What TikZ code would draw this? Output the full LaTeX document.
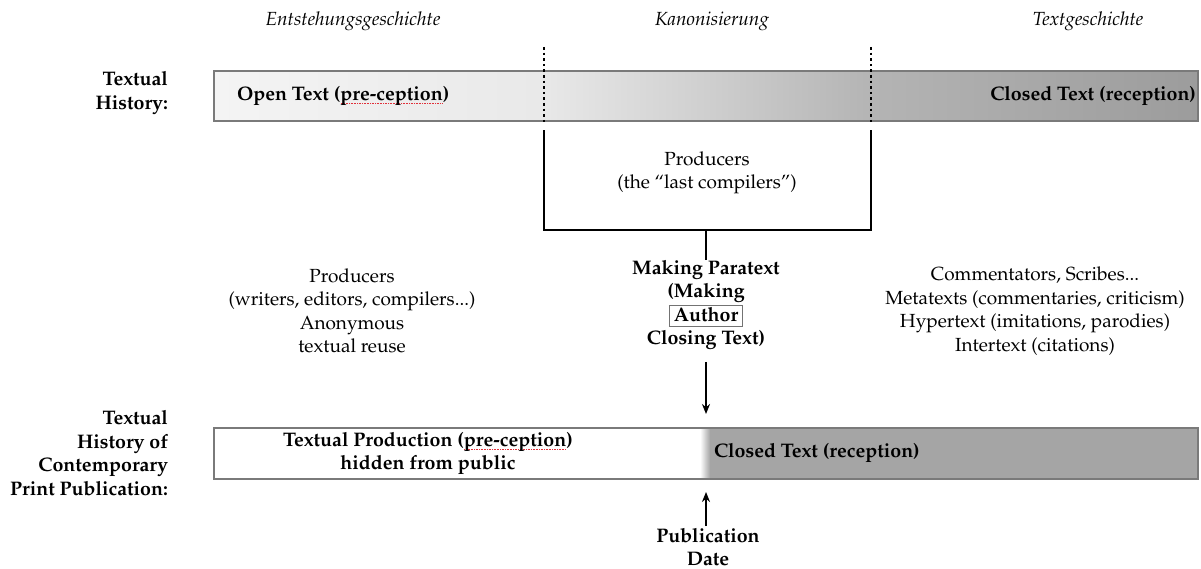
\documentclass[tikz,border=0pt]{standalone}
\usepackage[T1]{fontenc}
\usepackage{mathpazo}
\usetikzlibrary{arrows.meta}

\definecolor{barline}{HTML}{7A7A7A}
\definecolor{gA}{HTML}{F4F4F4}
\definecolor{gB}{HTML}{E9E9E9}
\definecolor{gC}{HTML}{D0D0D0}
\definecolor{gD}{HTML}{B4B4B4}
\definecolor{gE}{HTML}{9C9C9C}
\definecolor{gP}{HTML}{A5A5A5}
\definecolor{spell}{HTML}{E0303A}

% gradient of the textual-history bar (25bp..75bp spans the bar)
\pgfdeclarehorizontalshading{histshade}{100bp}{%
  color(0bp)=(gA); color(25bp)=(gA); color(41.6bp)=(gB);
  color(49.7bp)=(gC); color(58.4bp)=(gD); color(75bp)=(gE); color(100bp)=(gE)}
% print publication bar: white, then grey after the publication date
\pgfdeclarehorizontalshading{pubshade}{100bp}{%
  color(0bp)=(white); color(49.7bp)=(white); color(50.2bp)=(gP); color(100bp)=(gP)}

% red dotted spell-check mark under a word
\newsavebox\spellbox
\newcommand\spellmark[1]{\sbox\spellbox{#1}%
  \rlap{\raisebox{-3.4pt}{\color{spell}\hbox to \wd\spellbox{%
    \xleaders\hbox to 1.6pt{\hss\rule{0.8pt}{0.7pt}\hss}\hfill}}}%
  \usebox\spellbox}
% thin frame round a word
\newcommand\authorbox[1]{\smash{\setlength\fboxsep{1.2pt}\setlength\fboxrule{0.8pt}%
  \fcolorbox{black!55}{white}{\rule[-3.6pt]{0pt}{15.6pt}\kern3pt #1\kern3pt}}}

\begin{document}
\begin{tikzpicture}[x=1pt,y=-1pt,
  every node/.style={inner sep=0pt,outer sep=0pt},
  txt/.style={font=\fontsize{19}{23.5}\selectfont,align=center},
  lbl/.style={font=\fontsize{19.6}{23.5}\selectfont\bfseries,align=center},
  head/.style={font=\fontsize{19}{23.5}\selectfont\itshape},
  bar/.style={draw=barline,line width=1.2pt,minimum width=984pt,minimum height=50pt},
  dotmark/.style={line width=2.8pt,dash pattern=on 2.6pt off 3pt},
  bracket/.style={line width=2.2pt},
  arr/.style={line width=1.7pt,-{Stealth[length=10pt,width=8pt]}}]
\useasboundingbox (0,0) rectangle (1201,569);

% period headings
\node[head] (h1) at (353,21) {Entstehungsgeschichte};
\node[head] (h2) at (712,21) {Kanonisierung};
\node[head] (h3) at (1088,21) {Textgeschichte};

% textual history bar
\node[bar,shading=histshade] (tb) at (706,96) {};
\node[lbl,anchor=west] (open) at (237,96) {Open Text (\spellmark{pre-ception})};
\node[lbl,anchor=east] (closed) at (1196,96) {Closed Text (reception)};
\node[lbl,align=right,anchor=east] (th) at (168,93) {Textual\\History:};

% canonization span: dotted marks across the bar, bracket below
\coordinate (dl0) at (544,47);  \coordinate (dl1) at (544,125);
\coordinate (dr0) at (871,47);  \coordinate (dr1) at (871,125);
\coordinate (sl0) at (544,131); \coordinate (sl1) at (544,230);
\coordinate (sr0) at (871,131); \coordinate (sr1) at (871,230);
\coordinate (stem) at (706,230);
\draw[dotmark] (dl0) -- (dl1);
\draw[dotmark] (dr0) -- (dr1);
\draw[bracket,line cap=rect] (sl0) -- (sl1) -- (sr1) -- (sr0);

\node[txt] (lastc) at (707,173) {Producers\\(the ``last compilers'')};

% middle row
\node[txt] (prodl) at (352,311) {Producers\\(writers, editors, compilers...)\\Anonymous\\textual reuse};
\node[lbl] (para) at (706,305) {Making Paratext\\(Making\\\authorbox{Author}\\Closing Text)};
\node[txt] (meta) at (1035,311) {Commentators, Scribes...\\Metatexts (commentaries, criticism)\\Hypertext (imitations, parodies)\\Intertext (citations)};
\draw[bracket] (stem) -- (stem |- para.north);

% contemporary print publication bar
\node[bar,shading=pubshade,minimum height=51pt] (bb) at (706,453.5) {};
\node[lbl] (prod) at (428,453.5) {Textual Production (\spellmark{pre-ception})\\hidden from public};
\node[lbl,anchor=west] (closed2) at (714,453) {Closed Text (reception)};
\node[lbl,align=right,anchor=east] (tpp) at (168,453) {Textual\\History of\\Contemporary\\Print Publication:};
\node[lbl] (pub) at (708,547) {Publication\\Date};

\draw[arr,shorten <=12pt,shorten >=14pt] (para.south) -- (bb.north);
\draw[arr,shorten <=2pt,shorten >=13pt] (pub.north -| bb.south) -- (bb.south);
\end{tikzpicture}
\end{document}
